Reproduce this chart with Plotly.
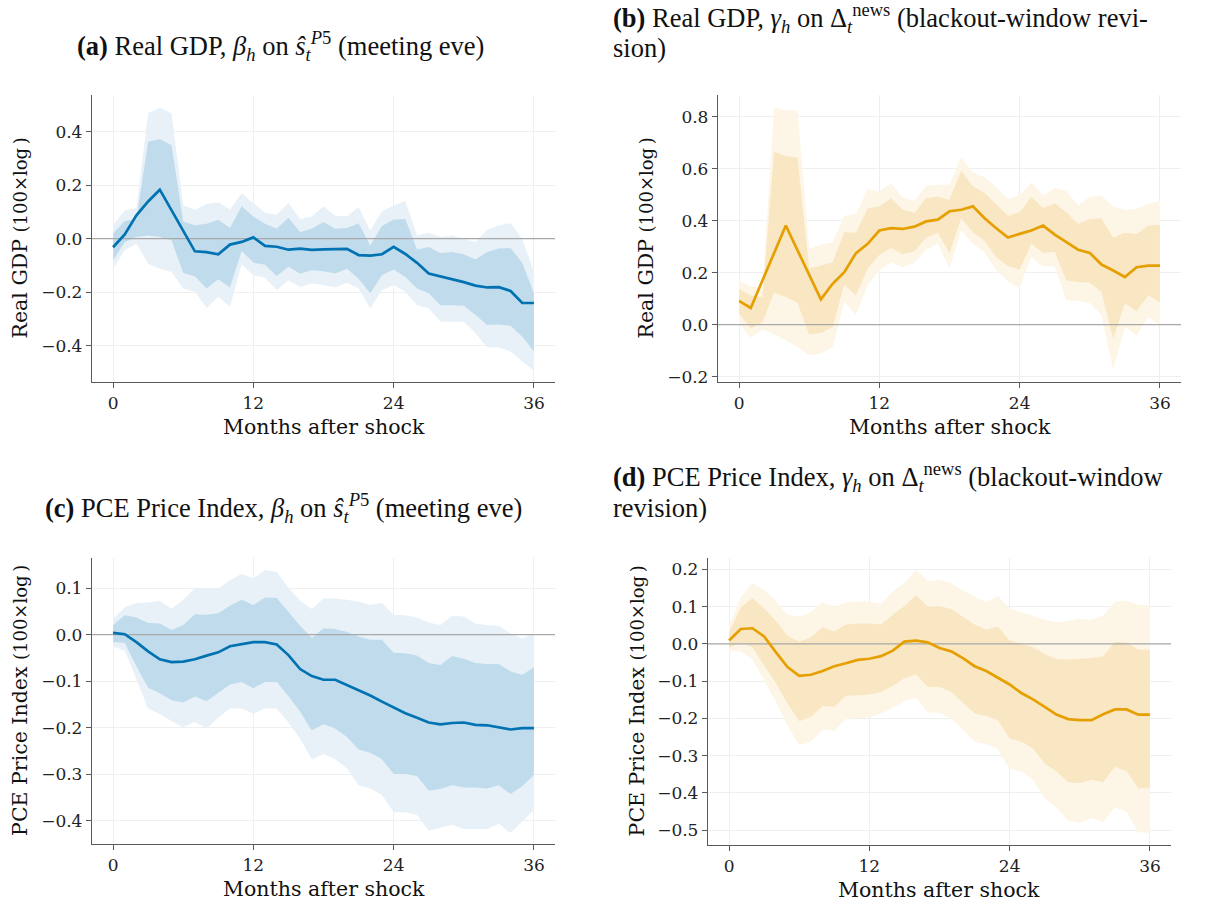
import plotly.graph_objects as go

# Horizon in months after the shock
months = list(range(37))

# (a) Real GDP, beta_h on s-hat (meeting eve)
gdp_beta = [-0.032, 0.016, 0.087, 0.139, 0.183, 0.105, 0.031, -0.047, -0.050, -0.058,
            -0.022, -0.012, 0.005, -0.027, -0.030, -0.041, -0.037, -0.042, -0.040, -0.038,
            -0.038, -0.061, -0.063, -0.058, -0.030, -0.057, -0.090, -0.130, -0.140, -0.151,
            -0.162, -0.175, -0.182, -0.181, -0.195, -0.240, -0.240]
gdp_beta_hi68 = [0.019, 0.066, 0.074, 0.362, 0.372, 0.349, 0.064, 0.050, 0.056, 0.071,
                 0.040, 0.121, 0.083, 0.056, 0.037, 0.078, 0.025, 0.037, 0.062, 0.037,
                 0.040, 0.058, -0.025, 0.047, 0.072, 0.074, -0.040, -0.031, -0.053, -0.050,
                 -0.058, -0.078, -0.050, -0.037, -0.035, -0.090, -0.204]
gdp_beta_lo68 = [-0.081, -0.012, 0.006, 0.012, 0.006, -0.006, -0.128, -0.140, -0.186, -0.151,
                 -0.182, -0.046, -0.089, -0.097, -0.139, -0.105, -0.131, -0.118, -0.121, -0.130,
                 -0.112, -0.149, -0.204, -0.136, -0.115, -0.143, -0.186, -0.204, -0.248, -0.248,
                 -0.250, -0.285, -0.322, -0.320, -0.325, -0.366, -0.421]
gdp_beta_hi90 = [0.050, 0.105, 0.115, 0.468, 0.489, 0.468, 0.124, 0.108, 0.130, 0.136,
                 0.109, 0.170, 0.133, 0.097, 0.089, 0.133, 0.074, 0.083, 0.120, 0.087,
                 0.083, 0.118, 0.031, 0.102, 0.124, 0.141, 0.012, 0.022, 0.006, 0.012,
                 0.000, -0.012, 0.033, 0.050, 0.058, 0.000, -0.124]
gdp_beta_lo90 = [-0.112, -0.043, -0.019, -0.093, -0.112, -0.124, -0.186, -0.198, -0.260, -0.217,
                 -0.254, -0.095, -0.136, -0.146, -0.192, -0.155, -0.180, -0.167, -0.173, -0.182,
                 -0.164, -0.186, -0.260, -0.192, -0.173, -0.198, -0.248, -0.260, -0.310, -0.310,
                 -0.310, -0.353, -0.406, -0.405, -0.421, -0.458, -0.493]

# (b) Real GDP, gamma_h on Delta news (blackout-window revision)
gdp_gamma = [0.091, 0.064, 0.170, 0.276, 0.381, 0.286, 0.192, 0.097, 0.157, 0.202,
             0.275, 0.311, 0.362, 0.371, 0.368, 0.377, 0.397, 0.404, 0.436, 0.442,
             0.455, 0.409, 0.371, 0.335, 0.349, 0.362, 0.381, 0.346, 0.317, 0.288,
             0.276, 0.231, 0.208, 0.183, 0.221, 0.227, 0.227]
gdp_gamma_hi68 = [0.138, 0.112, 0.106, 0.665, 0.649, 0.643, 0.215, 0.227, 0.240, 0.355,
                  0.353, 0.447, 0.454, 0.486, 0.442, 0.429, 0.486, 0.493, 0.479, 0.592,
                  0.532, 0.506, 0.464, 0.419, 0.432, 0.492, 0.449, 0.466, 0.432, 0.387,
                  0.406, 0.409, 0.334, 0.353, 0.349, 0.381, 0.383]
gdp_gamma_lo68 = [0.042, -0.015, 0.010, 0.123, 0.106, 0.084, -0.038, -0.032, -0.009, 0.153,
                  0.112, 0.215, 0.268, 0.295, 0.272, 0.282, 0.334, 0.353, 0.275, 0.409,
                  0.355, 0.323, 0.259, 0.225, 0.212, 0.311, 0.276, 0.279, 0.170, 0.164,
                  0.161, 0.125, -0.054, 0.081, 0.051, 0.112, 0.087]
gdp_gamma_hi90 = [0.170, 0.147, 0.142, 0.834, 0.824, 0.824, 0.291, 0.308, 0.317, 0.419,
                  0.426, 0.521, 0.511, 0.543, 0.489, 0.477, 0.534, 0.538, 0.538, 0.645,
                  0.585, 0.566, 0.528, 0.483, 0.498, 0.547, 0.498, 0.525, 0.515, 0.458,
                  0.492, 0.496, 0.454, 0.442, 0.445, 0.464, 0.477]
gdp_gamma_lo90 = [0.004, -0.051, -0.018, -0.038, -0.060, -0.086, -0.118, -0.111, -0.088, 0.087,
                  0.038, 0.151, 0.208, 0.240, 0.221, 0.238, 0.288, 0.311, 0.217, 0.362,
                  0.311, 0.279, 0.208, 0.166, 0.142, 0.259, 0.225, 0.225, 0.093, 0.093,
                  0.083, 0.036, -0.175, -0.009, -0.043, 0.029, -0.003]

# (c) PCE Price Index, beta_h on s-hat (meeting eve)
pce_beta = [0.004, 0.001, -0.016, -0.036, -0.053, -0.059, -0.058, -0.053, -0.045, -0.038,
            -0.025, -0.020, -0.016, -0.016, -0.021, -0.044, -0.074, -0.089, -0.097, -0.097,
            -0.108, -0.120, -0.131, -0.144, -0.156, -0.169, -0.179, -0.189, -0.193, -0.190,
            -0.189, -0.194, -0.195, -0.200, -0.204, -0.201, -0.201]
pce_beta_hi68 = [0.021, 0.042, 0.037, 0.025, 0.024, 0.010, 0.021, 0.044, 0.043, 0.046,
                 0.062, 0.075, 0.064, 0.080, 0.079, 0.048, 0.019, -0.007, 0.014, 0.012,
                 0.006, -0.004, -0.011, -0.011, -0.039, -0.040, -0.045, -0.061, -0.065, -0.046,
                 -0.052, -0.061, -0.063, -0.063, -0.079, -0.086, -0.070]
pce_beta_lo68 = [-0.016, -0.018, -0.068, -0.114, -0.126, -0.141, -0.146, -0.133, -0.143, -0.125,
                 -0.107, -0.102, -0.115, -0.102, -0.102, -0.132, -0.166, -0.206, -0.193, -0.202,
                 -0.220, -0.247, -0.254, -0.268, -0.300, -0.300, -0.304, -0.336, -0.332, -0.324,
                 -0.329, -0.329, -0.331, -0.324, -0.343, -0.326, -0.302]
pce_beta_hi90 = [0.034, 0.059, 0.068, 0.069, 0.073, 0.056, 0.075, 0.100, 0.100, 0.100,
                 0.117, 0.131, 0.121, 0.139, 0.135, 0.101, 0.073, 0.055, 0.078, 0.078,
                 0.075, 0.071, 0.064, 0.068, 0.043, 0.042, 0.037, 0.026, 0.021, 0.041,
                 0.039, 0.024, 0.021, 0.019, 0.003, -0.009, 0.003]
pce_beta_lo90 = [-0.026, -0.034, -0.096, -0.159, -0.171, -0.186, -0.199, -0.188, -0.202, -0.179,
                 -0.159, -0.159, -0.170, -0.159, -0.159, -0.189, -0.224, -0.268, -0.257, -0.268,
                 -0.288, -0.324, -0.331, -0.345, -0.382, -0.382, -0.388, -0.422, -0.416, -0.409,
                 -0.418, -0.418, -0.418, -0.407, -0.427, -0.402, -0.377]

# (d) PCE Price Index, gamma_h on Delta news (blackout-window revision)
pce_gamma = [0.009, 0.040, 0.042, 0.020, -0.022, -0.062, -0.086, -0.083, -0.073, -0.060,
             -0.052, -0.043, -0.040, -0.033, -0.018, 0.006, 0.009, 0.004, -0.011, -0.020,
             -0.038, -0.060, -0.073, -0.091, -0.109, -0.132, -0.149, -0.169, -0.190, -0.202,
             -0.205, -0.205, -0.189, -0.176, -0.176, -0.190, -0.190]
pce_gamma_hi68 = [0.031, 0.098, 0.123, 0.095, 0.062, 0.022, 0.006, 0.018, 0.045, 0.033,
                  0.052, 0.055, 0.055, 0.052, 0.078, 0.102, 0.131, 0.100, 0.102, 0.094,
                  0.073, 0.052, 0.038, 0.047, 0.009, 0.000, -0.009, -0.027, -0.040, -0.042,
                  -0.040, -0.038, -0.033, 0.006, 0.004, -0.015, -0.016]
pce_gamma_lo68 = [-0.011, 0.004, -0.009, -0.058, -0.105, -0.160, -0.208, -0.196, -0.167, -0.169,
                  -0.140, -0.138, -0.136, -0.129, -0.113, -0.092, -0.082, -0.116, -0.116, -0.129,
                  -0.158, -0.187, -0.194, -0.205, -0.254, -0.263, -0.281, -0.321, -0.343, -0.372,
                  -0.374, -0.365, -0.372, -0.330, -0.342, -0.388, -0.388]
pce_gamma_hi90 = [0.049, 0.125, 0.163, 0.145, 0.116, 0.078, 0.073, 0.086, 0.111, 0.100,
                  0.111, 0.114, 0.113, 0.107, 0.141, 0.163, 0.199, 0.168, 0.172, 0.163,
                  0.143, 0.127, 0.111, 0.129, 0.095, 0.085, 0.074, 0.065, 0.058, 0.062,
                  0.067, 0.065, 0.076, 0.113, 0.116, 0.105, 0.104]
pce_gamma_lo90 = [-0.020, -0.020, -0.042, -0.098, -0.156, -0.220, -0.272, -0.263, -0.230, -0.234,
                  -0.201, -0.199, -0.198, -0.187, -0.172, -0.153, -0.145, -0.184, -0.185, -0.201,
                  -0.230, -0.263, -0.269, -0.283, -0.336, -0.343, -0.364, -0.414, -0.439, -0.475,
                  -0.481, -0.468, -0.479, -0.439, -0.450, -0.506, -0.508]

x_ticks = [0, 12, 24, 36]
x_title = "Months after shock"

W, H = 1209, 909
BLUE = "#0072B2"
ORANGE = "#E69F00"
TICK_FONT = dict(family="DejaVu Serif", size=17, color="#222222")
LABEL_FONT = dict(family="DejaVu Serif", size=20.5, color="#111111")
TITLE_FONT = dict(family="Liberation Serif", size=26.5, color="#111111")

# panel: (data, colour set, pixel box [left, right, top, bottom], y range, y ticks, y label)
panels = [
    dict(mid=gdp_beta, lo68=gdp_beta_lo68, hi68=gdp_beta_hi68, lo90=gdp_beta_lo90, hi90=gdp_beta_hi90,
         line=BLUE, dark="#c0dcec", light="#e8f1f8", box=(92, 555, 95, 384),
         yrange=(-0.536, 0.538), yticks=[-0.4, -0.2, 0.0, 0.2, 0.4], ylab="Real GDP", ylab_x=20),
    dict(mid=gdp_gamma, lo68=gdp_gamma_lo68, hi68=gdp_gamma_hi68, lo90=gdp_gamma_lo90, hi90=gdp_gamma_hi90,
         line=ORANGE, dark="#f9e7c3", light="#fdf5e6", box=(718, 1181, 95, 384),
         yrange=(-0.222, 0.885), yticks=[-0.2, 0.0, 0.2, 0.4, 0.6, 0.8], ylab="Real GDP", ylab_x=646),
    dict(mid=pce_beta, lo68=pce_beta_lo68, hi68=pce_beta_hi68, lo90=pce_beta_lo90, hi90=pce_beta_hi90,
         line=BLUE, dark="#c0dcec", light="#e8f1f8", box=(92, 555, 560, 848),
         yrange=(-0.451, 0.166), yticks=[-0.4, -0.3, -0.2, -0.1, 0.0, 0.1], ylab="PCE Price Index", ylab_x=20),
    dict(mid=pce_gamma, lo68=pce_gamma_lo68, hi68=pce_gamma_hi68, lo90=pce_gamma_lo90, hi90=pce_gamma_hi90,
         line=ORANGE, dark="#f9e7c3", light="#fdf5e6", box=(708, 1171, 560, 849),
         yrange=(-0.541, 0.232), yticks=[-0.5, -0.4, -0.3, -0.2, -0.1, 0.0, 0.1, 0.2],
         ylab="PCE Price Index", ylab_x=637),
]

XRANGE = (-1.8, 37.8)


def fmt(v):
    s = f"{v:.1f}"
    return s.replace("-", "\u2212")


fig = go.Figure()
layout = dict(width=W, height=H, margin=dict(l=0, r=0, t=0, b=0),
              plot_bgcolor="white", paper_bgcolor="white", showlegend=False)
annotations = []

for i, p in enumerate(panels, start=1):
    xa = "x" if i == 1 else f"x{i}"
    ya = "y" if i == 1 else f"y{i}"
    left, right, top, bottom = p["box"]

    band_x = months + months[::-1]
    fig.add_trace(go.Scatter(x=band_x, y=p["hi90"] + p["lo90"][::-1], fill="toself",
                             fillcolor=p["light"], line=dict(width=0), mode="lines",
                             hoverinfo="skip", xaxis=xa, yaxis=ya))
    fig.add_trace(go.Scatter(x=band_x, y=p["hi68"] + p["lo68"][::-1], fill="toself",
                             fillcolor=p["dark"], line=dict(width=0), mode="lines",
                             hoverinfo="skip", xaxis=xa, yaxis=ya))
    # zero reference line across the full axis width
    fig.add_trace(go.Scatter(x=list(XRANGE), y=[0, 0], mode="lines",
                             line=dict(color="#a8a8a8", width=1.2), hoverinfo="skip",
                             xaxis=xa, yaxis=ya))
    fig.add_trace(go.Scatter(x=months, y=p["mid"], mode="lines",
                             line=dict(color=p["line"], width=2.7), xaxis=xa, yaxis=ya))

    axis_common = dict(showline=True, linecolor="#5a5a5a", linewidth=1.3,
                       ticks="outside", ticklen=5, tickcolor="#5a5a5a", tickwidth=1.2,
                       showgrid=True, gridcolor="#efefef", gridwidth=1, zeroline=False,
                       tickfont=TICK_FONT, mirror=False)
    layout["xaxis" if i == 1 else f"xaxis{i}"] = dict(
        domain=[left / W, right / W], range=list(XRANGE), anchor=ya,
        tickmode="array", tickvals=x_ticks, ticktext=[str(t) for t in x_ticks], **axis_common)
    layout["yaxis" if i == 1 else f"yaxis{i}"] = dict(
        domain=[1 - bottom / H, 1 - top / H], range=list(p["yrange"]), anchor=xa,
        tickmode="array", tickvals=p["yticks"], ticktext=[fmt(v) for v in p["yticks"]],
        **axis_common)

    # axis labels
    annotations.append(dict(
        text=x_title, xref="paper", yref="paper", x=(left + right) / 2 / W,
        y=1 - (bottom + 45) / H, xanchor="center", yanchor="middle", showarrow=False,
        font=LABEL_FONT))
    annotations.append(dict(
        text=p["ylab"] + " <span style='font-size:18px'>(100×log\u2009)</span>",
        xref="paper", yref="paper", x=p["ylab_x"] / W, y=1 - (top + bottom) / 2 / H,
        xanchor="center", yanchor="middle", textangle=-90, showarrow=False, font=LABEL_FONT))

beta_sym = "<i>β</i><sub><i>h</i></sub>"
shat_sym = "<i>ŝ</i><sub><i>t</i></sub><sup><i>P</i>5</sup>"
gamma_sym = "<i>γ</i><sub><i>h</i></sub>"
delta_sym = "Δ<sub><i>t</i></sub><sup>news</sup>"

titles = [
    (f"<b>(a)</b> Real GDP, {beta_sym} on {shat_sym} (meeting eve)", 280, 46, "center"),
    (f"<b>(b)</b> Real GDP, {gamma_sym} on {delta_sym} (blackout-window revi-", 611, 18, "left"),
    ("sion)", 611, 48, "left"),
    (f"<b>(c)</b> PCE Price Index, {beta_sym} on {shat_sym} (meeting eve)", 283, 510, "center"),
    (f"<b>(d)</b> PCE Price Index, {gamma_sym} on {delta_sym} (blackout-window", 611, 479, "left"),
    ("revision)", 611, 510, "left"),
]
for text, px, py, anchor in titles:
    annotations.append(dict(text=text, xref="paper", yref="paper", x=px / W, y=1 - py / H,
                            xanchor=anchor, yanchor="middle", showarrow=False, font=TITLE_FONT))

layout["annotations"] = annotations
fig.update_layout(**layout)
fig.write_html("out.html")
